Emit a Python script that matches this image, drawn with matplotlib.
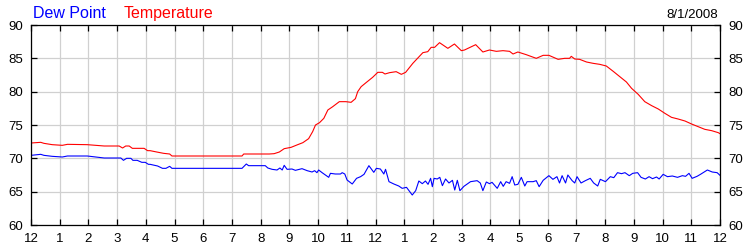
import matplotlib
matplotlib.use("Agg")
import matplotlib.pyplot as plt

plt.rcParams['font.family'] = ['Liberation Sans', 'DejaVu Sans']

# hours since midnight, 8/1/2008
temp_hours = [0.0, 0.34, 0.45, 0.74, 1.09, 1.27, 1.96, 2.55, 3.07, 3.19, 3.3, 3.42, 3.53, 3.94,
              4.06, 4.15, 4.38, 4.62, 4.83, 4.91, 7.35, 7.41, 8.3, 8.47, 8.65, 8.82, 9.06, 9.29,
              9.47, 9.67, 9.81, 9.91, 10.05, 10.2, 10.34, 10.51, 10.74, 10.97, 11.15, 11.3, 11.38,
              11.5, 11.67, 11.9, 12.08, 12.24, 12.33, 12.49, 12.72, 12.9, 13.05, 13.3, 13.65,
              13.82, 13.94, 14.06, 14.23, 14.52, 14.75, 14.99, 15.1, 15.49, 15.74, 15.97, 16.21,
              16.44, 16.67, 16.79, 16.96, 17.25, 17.6, 17.84, 18.04, 18.36, 18.59, 18.76, 18.82,
              18.94, 19.11, 19.35, 19.58, 19.81, 20.04, 20.28, 20.51, 20.74, 20.92, 21.15, 21.38,
              21.62, 21.85, 22.08, 22.31, 22.54, 22.78, 23.01, 23.24, 23.47, 23.71, 23.94, 24.0]
temperature = [72.3, 72.4, 72.25, 72.05, 71.95, 72.1, 72.05, 71.85, 71.85, 71.55, 71.85, 71.85, 71.5, 71.5,
               71.15, 71.15, 70.95, 70.75, 70.65, 70.35, 70.35, 70.65, 70.65, 70.7, 70.95, 71.45, 71.65, 72.05,
               72.35, 72.95, 74.0, 75.0, 75.35, 76.0, 77.25, 77.75, 78.5, 78.5, 78.4, 78.95, 80.0,
               80.75, 81.35, 82.15, 82.9, 82.9, 82.65, 82.85, 83.0, 82.6, 82.9, 84.25, 85.85,
               86.0, 86.65, 86.65, 87.35, 86.5, 87.15, 86.15, 86.25, 87.05, 85.95, 86.25, 86.05,
               86.15, 86.05, 85.65, 85.95, 85.55, 85.0, 85.45, 85.45, 84.85, 85.0, 85.0, 85.3,
               84.9, 84.85, 84.45, 84.25, 84.1, 83.85, 83.05, 82.25, 81.45, 80.5, 79.6, 78.5,
               77.9, 77.4, 76.75, 76.15, 75.9, 75.6, 75.15, 74.75, 74.35, 74.15, 73.85, 73.7]

dew_hours = [0.0, 0.34, 0.45, 0.74, 1.09, 1.27, 1.96, 2.55, 3.13, 3.22, 3.33, 3.48, 3.55, 3.7, 3.86,
             3.98, 4.09, 4.15, 4.41, 4.58, 4.7, 4.83, 4.91, 7.35, 7.5, 7.58, 8.16, 8.25, 8.4, 8.57,
             8.67, 8.75, 8.82, 8.92, 9.09, 9.21, 9.44, 9.62, 9.79, 9.88, 9.96, 10.02, 10.14, 10.37,
             10.43, 10.6, 10.78, 10.84, 10.93, 11.01, 11.19, 11.34, 11.48, 11.6, 11.77, 11.94, 12.03,
             12.17, 12.29, 12.35, 12.47, 12.64, 12.81, 12.93, 13.08, 13.28, 13.4, 13.51, 13.63, 13.74,
             13.83, 13.92, 13.98, 14.04, 14.15, 14.24, 14.33, 14.44, 14.56, 14.68, 14.76, 14.85, 14.94,
             15.08, 15.31, 15.54, 15.65, 15.74, 15.86, 15.97, 16.06, 16.24, 16.36, 16.45, 16.55, 16.67,
             16.76, 16.85, 16.96, 17.08, 17.2, 17.28, 17.49, 17.6, 17.7, 17.84, 18.04, 18.18, 18.32,
             18.41, 18.5, 18.62, 18.7, 18.85, 18.94, 19.02, 19.16, 19.31, 19.48, 19.6, 19.74, 19.83,
             20.01, 20.18, 20.3, 20.43, 20.57, 20.69, 20.84, 20.96, 21.13, 21.25, 21.4, 21.53, 21.65,
             21.79, 21.88, 22.02, 22.17, 22.34, 22.52, 22.69, 22.8, 22.92, 23.03, 23.2, 23.32, 23.56,
             23.73, 23.9, 24.0]
dew_point = [70.45, 70.6, 70.45, 70.3, 70.2, 70.35, 70.35, 70.05, 70.05, 69.7, 70.0, 70.0, 69.7, 69.7, 69.4,
             69.4, 69.1, 69.1, 68.85, 68.5, 68.5, 68.8, 68.5, 68.5, 69.15, 68.9, 68.9, 68.55, 68.35, 68.25,
             68.55, 68.25, 68.95, 68.35, 68.4, 68.2, 68.45, 68.15, 67.95, 68.15, 67.85, 68.25, 67.85, 67.15,
             67.75, 67.65, 67.65, 67.85, 67.65, 66.75, 66.15, 67.0, 67.25, 67.6, 68.9, 67.9, 68.5,
             68.4, 67.65, 68.35, 66.5, 66.15, 65.85, 65.5, 65.65, 64.5, 65.15, 66.6, 66.2, 66.6,
             66.1, 67.0, 65.75, 67.0, 66.9, 67.15, 65.9, 66.9, 66.3, 66.7, 65.25, 66.7, 65.15,
             65.8, 66.5, 66.65, 66.3, 65.15, 66.45, 66.2, 66.4, 65.5, 66.5, 65.8, 66.5, 66.25,
             67.25, 66.0, 66.1, 67.15, 65.85, 66.5, 66.5, 66.65, 65.75, 66.7, 67.4, 66.85, 67.25,
             66.3, 67.4, 66.3, 67.5, 66.65, 66.3, 67.25, 66.3, 66.65, 67.0, 66.3, 65.85, 66.85,
             66.5, 67.25, 67.1, 67.85, 67.7, 67.85, 67.4, 67.75, 67.85, 67.15, 66.9, 67.25, 66.95,
             67.2, 66.9, 67.6, 67.25, 67.35, 67.15, 67.4, 67.3, 67.75, 67.0, 67.3, 67.6, 68.25,
             67.95, 67.85, 67.45]

hour_ticks = list(range(0, 25))
hour_labels = ['12', '1', '2', '3', '4', '5', '6', '7', '8', '9', '10', '11',
               '12', '1', '2', '3', '4', '5', '6', '7', '8', '9', '10', '11', '12']
y_ticks = [60, 65, 70, 75, 80, 85, 90]

fig = plt.figure(figsize=(7.5, 2.5), dpi=100)
ax = fig.add_axes([31 / 750, 25 / 250, 689 / 750, 200 / 250])

ax.plot(dew_hours, dew_point, color='#0000ff', lw=0.8)
ax.plot(temp_hours, temperature, color='#ff0000', lw=0.8)

ax.set_xlim(0, 24)
ax.set_ylim(60, 90)
ax.set_xticks(hour_ticks)
ax.set_xticklabels(hour_labels)
ax.set_yticks(y_ticks)
ax.grid(True, color='#d0d0d0', lw=0.9)
ax.set_axisbelow(True)
ax.tick_params(direction='in', length=4, width=0.9, top=True, right=True,
               labelright=True, labelsize=9.5, pad=6)
for s in ax.spines.values():
    s.set_linewidth(0.9)
    s.set_color('black')

fig.text(33 / 750, 1 - 18 / 250, 'Dew Point', color='#0000ff', fontsize=11.5, va='baseline')
fig.text(124 / 750, 1 - 18 / 250, 'Temperature', color='#ff0000', fontsize=11.5, va='baseline')
fig.text(718 / 750, 1 - 18 / 250, '8/1/2008', color='black', fontsize=9.5, va='baseline', ha='right')

fig.savefig('out.png', dpi=100)
